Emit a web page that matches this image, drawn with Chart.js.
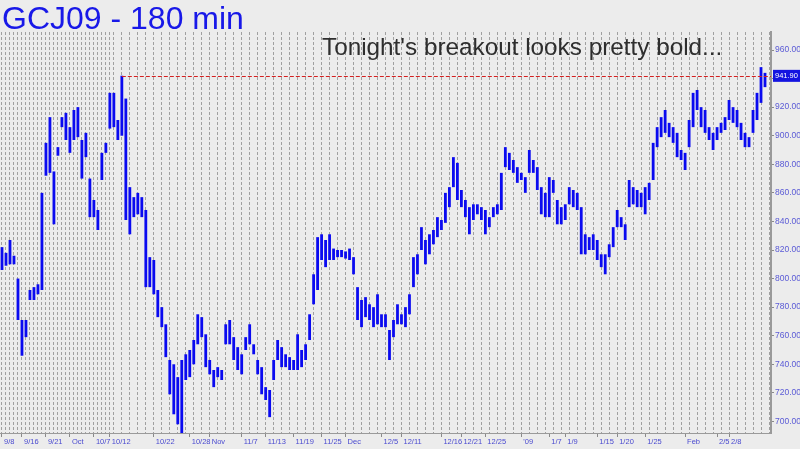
<!DOCTYPE html>
<html>
<head>
<meta charset="utf-8">
<script src="https://cdn.jsdelivr.net/npm/chart.js@4"></script>
<style>
  body { margin: 0; background: #ececec; }
  #wrap { width: 800px; height: 449px; }
</style>
</head>
<body>
<div id="wrap"><canvas id="gcChart" width="800" height="449"></canvas></div>
<script>
// 180-minute bars, one entry per bar: low and high
const lows = [
  806, 809, 810, 810, 771, 746, 759, 785, 785, 789, 792, 872, 874, 838, 886, 906, 897, 888, 897, 899,
  870, 885, 843, 843, 834, 869, 888, 905, 906, 897, 900, 841, 831, 843, 845, 843, 794, 794, 789, 773,
  766, 745, 719, 705, 698, 690, 729, 731, 740, 754, 759, 738, 733, 724, 731, 729, 754, 754, 743, 736,
  733, 750, 754, 747, 733, 719, 715, 703, 729, 743, 738, 738, 736, 736, 736, 738, 743, 757, 782, 792,
  813, 808, 813, 813, 815, 815, 814, 813, 803, 771, 766, 773, 771, 766, 768, 766, 766, 743, 759, 768,
  768, 766, 775, 794, 803, 820, 810, 817, 824, 829, 834, 839, 850, 864, 855, 850, 843, 831, 841, 845,
  841, 831, 836, 843, 845, 848, 878, 876, 874, 867, 869, 860, 874, 874, 862, 845, 843, 843, 860, 838,
  838, 841, 852, 850, 848, 817, 817, 820, 820, 813, 808, 803, 815, 822, 836, 836, 827, 850, 852, 850,
  850, 845, 855, 869, 892, 899, 902, 899, 895, 885, 883, 876, 892, 906, 918, 906, 902, 897, 890, 897,
  902, 904, 911, 909, 906, 897, 892, 892, 902, 911, 923, 934, null
];
const highs = [
  822, 818, 827, 816, 800, 771, 771, 792, 794, 796, 860, 895, 913, 875, 892, 913, 916, 906, 918, 920,
  897, 902, 870, 855, 848, 888, 895, 930, 930, 911, 942, 926, 864, 857, 860, 857, 848, 815, 813, 792,
  780, 768, 743, 740, 731, 743, 747, 750, 757, 775, 773, 761, 743, 736, 738, 736, 768, 771, 759, 752,
  747, 759, 768, 754, 743, 738, 724, 722, 743, 757, 752, 747, 745, 743, 761, 750, 754, 775, 803, 829,
  831, 827, 831, 821, 820, 820, 819, 821, 815, 794, 785, 787, 782, 780, 789, 775, 775, 764, 771, 782,
  775, 780, 789, 815, 817, 836, 827, 831, 834, 843, 841, 860, 864, 885, 881, 862, 855, 850, 852, 852,
  850, 848, 843, 850, 852, 874, 892, 888, 883, 878, 874, 871, 890, 883, 878, 864, 860, 871, 869, 855,
  850, 852, 864, 862, 860, 850, 831, 829, 831, 827, 817, 817, 824, 836, 848, 843, 838, 869, 864, 862,
  860, 864, 867, 895, 906, 913, 918, 909, 906, 902, 890, 888, 911, 930, 932, 920, 918, 906, 902, 906,
  909, 913, 925, 920, 918, 909, 902, 899, 918, 930, 948, 944, null
];

// date labels and the bar they sit on
const dateLabels = ['9/8', '9/16', '9/21', 'Oct', '10/7', '10/12', '10/22', '10/28', 'Nov', '11/7',
  '11/13', '11/19', '11/25', 'Dec', '12/5', '12/11', '12/16', '12/21', '12/25', "'09",
  '1/7', '1/9', '1/15', '1/20', '1/25', 'Feb', '2/5', '2/8'];
const dateIdx = [0, 5, 11, 17, 23, 27, 38, 47, 52, 60, 66, 73, 80, 86, 95, 100, 110, 115, 121, 130,
  137, 141, 149, 154, 161, 171, 179, 182];

const yTicks = [700, 720, 740, 760, 780, 800, 820, 840, 860, 880, 900, 920, 940, 960];
const breakoutLevel = 941.9;
const breakoutStart = 30;

const labels = lows.map(() => '');
dateIdx.forEach((k, j) => { labels[k] = dateLabels[j]; });
const ranges = lows.map((lo, i) => lo == null ? null : [lo, highs[i]]);

const extras = {
  id: 'extras',
  beforeDraw(chart) {
    const c = chart.ctx;
    c.save();
    c.fillStyle = '#ececec';
    c.fillRect(0, 0, chart.width, chart.height);
    c.restore();
  },
  afterDatasetsDraw(chart) {
    const c = chart.ctx;
    const x = chart.scales.x, y = chart.scales.y;
    const yy = Math.round(y.getPixelForValue(breakoutLevel)) + 0.5;
    c.save();
    c.strokeStyle = '#d42020';
    c.lineWidth = 1;
    c.setLineDash([4, 2]);
    c.beginPath();
    c.moveTo(x.getPixelForValue(breakoutStart), yy);
    c.lineTo(chart.chartArea.right, yy);
    c.stroke();
    c.restore();
  },
  afterDraw(chart) {
    const c = chart.ctx;
    const y = chart.scales.y;
    c.save();
    // title
    c.fillStyle = '#1818e8';
    c.font = '32px "Liberation Sans", Arial, sans-serif';
    c.textBaseline = 'alphabetic';
    c.fillText('GCJ09 - 180 min', 2, 29);
    // note
    const note = "Tonight's breakout looks pretty bold...";
    c.font = '24px "Liberation Sans", Arial, sans-serif';
    const sz = 24 * 400 / c.measureText(note).width;
    c.font = sz.toFixed(1) + 'px "Liberation Sans", Arial, sans-serif';
    c.fillStyle = '#2e2e2e';
    c.fillText(note, 322, 55);
    // last price box
    const py = y.getPixelForValue(breakoutLevel);
    c.fillStyle = '#1414e0';
    c.fillRect(773, py - 6, 27, 12);
    c.fillStyle = '#ffffff';
    c.font = '7.5px "Liberation Sans", Arial, sans-serif';
    c.textBaseline = 'middle';
    c.fillText('941.90', 775, py + 0.5);
    c.restore();
  }
};

new Chart(document.getElementById('gcChart'), {
  type: 'bar',
  data: {
    labels: labels,
    datasets: [{
      data: ranges,
      backgroundColor: '#0a0af0',
      borderWidth: 0,
      barPercentage: 0.7,
      categoryPercentage: 1
    }]
  },
  options: {
    responsive: false,
    animation: false,
    layout: { padding: { top: 32, left: 0, right: 0, bottom: 0 } },
    plugins: { legend: { display: false }, tooltip: { enabled: false }, title: { display: false } },
    scales: {
      x: {
        afterFit(s) { s.height = 16; },
        grid: {
          offset: false,
          lineWidth: 1,
          color: (ctx) => {
            const i = ctx.index;
            if (i < 28) return '#a0a0a0';
            return i % 2 === 0 ? '#a0a0a0' : 'rgba(0,0,0,0)';
          },
          drawTicks: true,
          tickLength: 4,
          tickColor: (ctx) => labels[ctx.index] ? '#8a8a8a' : 'rgba(0,0,0,0)'
        },
        border: { display: true, color: '#9a9a9a', width: 1, dash: [3, 2] },
        ticks: {
          autoSkip: false,
          maxRotation: 0,
          minRotation: 0,
          align: 'start',
          labelOffset: 2,
          padding: 0,
          color: '#4a4ad0',
          font: { family: '"Liberation Sans", Arial', size: 7.5 }
        }
      },
      y: {
        position: 'right',
        min: 691.9,
        max: 972.6,
        afterFit(s) { s.width = 29; },
        afterBuildTicks(s) { s.ticks = yTicks.map(v => ({ value: v })); },
        grid: { drawOnChartArea: false, drawTicks: true, tickLength: 3, tickColor: '#8a8a8a' },
        border: { display: true, color: '#9a9a9a', width: 2 },
        ticks: {
          padding: 1,
          color: '#5a5ad6',
          font: { family: '"Liberation Sans", Arial', size: 8.5 },
          callback: (v) => v === 940 ? '' : v.toFixed(2)
        }
      }
    }
  },
  plugins: [extras]
});
</script>
</body>
</html>
